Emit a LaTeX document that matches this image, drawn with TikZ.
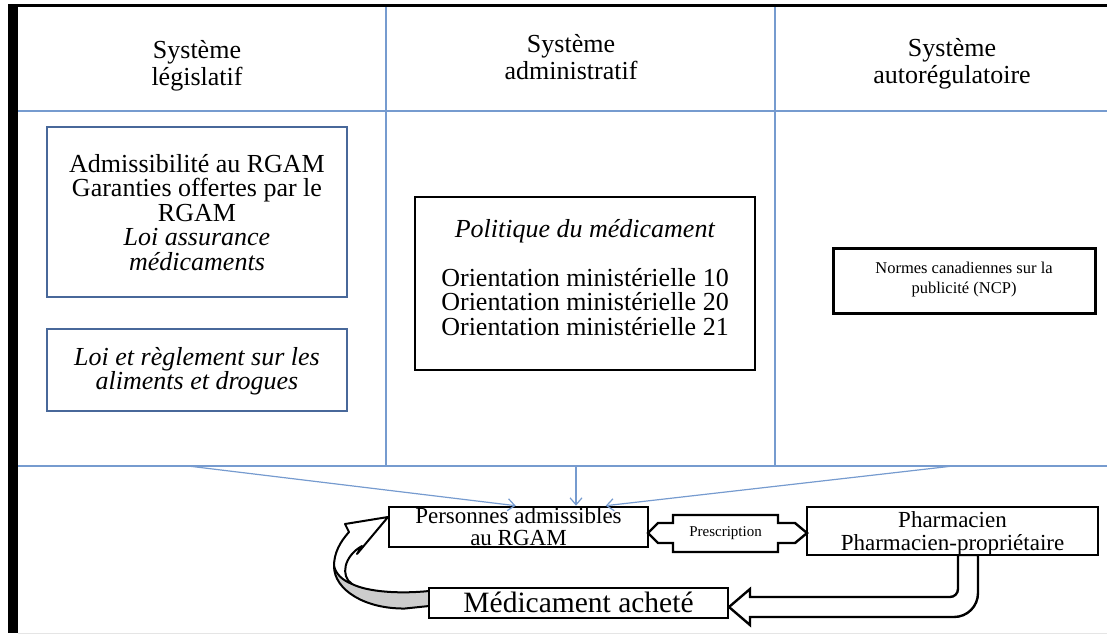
\documentclass[tikz,border=0pt]{standalone}
\usepackage{fontspec}
\setmainfont{Liberation Serif}
\usetikzlibrary{arrows.meta,calc}

\definecolor{gridblue}{RGB}{118,155,207}
\definecolor{boxblue}{RGB}{72,104,154}
\definecolor{ribbongray}{RGB}{204,204,204}

\tikzset{
  gridline/.style={draw=gridblue, line width=1.3pt},
  feed/.style={draw=gridblue, line width=1.2pt, -{Straight Barb[length=7pt,width=12pt]}},
  heading/.style={align=center, anchor=base, font=\fontsize{26}{27}\selectfont},
  bodytext/.style={align=center, anchor=base, inner sep=0pt, font=\fontsize{26}{24.5}\selectfont},
  lawbox/.style={draw=boxblue, line width=2.6pt, fill=white, inner sep=0pt},
  framebox/.style={draw=black, line width=2.6pt, fill=white, inner sep=0pt},
  thickline/.style={draw=black, line width=2.4pt, line join=miter},
  ribbon/.style={draw=black, line width=2pt, line join=round}
}

\begin{document}
\begin{tikzpicture}[x=1pt,y=-1pt]
\useasboundingbox (0,0) rectangle (1107,635);

% outer frame: black rule on top and on the left
\fill[black] (8,3.5) rectangle (1107,7);
\fill[black] (8,3.5) rectangle (18,633);
\draw[black!10, line width=1pt] (18,633.5) -- (1107,633.5);

% table grid
\draw[gridline] (18,111) -- (1107,111);
\draw[gridline] (18,466) -- (1107,466);
\draw[gridline] (386,7) -- (386,466);
\draw[gridline] (775,7) -- (775,466);

% column headings (anchored on the baseline of their last line)
\node[heading] (hleg) at (197,85) {Système\\législatif};
\node[heading] (hadm) at (571,79) {Système\\administratif};
\node[heading] (hauto) at (952,83) {Système\\autorégulatoire};

% legislative system
\node[lawbox, minimum width=300pt, minimum height=170pt] (ramq) at (197,212) {};
\node[bodytext] (ramqtxt) at (197,270)
  {Admissibilité au RGAM\\Garanties offertes par le\\RGAM\\\textit{Loi assurance}\\\textit{médicaments}};
\node[lawbox, minimum width=300pt, minimum height=82pt] (lad) at (197,370) {};
\node[bodytext] (ladtxt) at (197,389.5)
  {\textit{Loi et règlement sur les}\\\textit{aliments et drogues}};

% administrative system
\node[framebox, minimum width=340pt, minimum height=173pt] (pol) at (585,283.5) {};
\node[bodytext] (poltxt) at (585,335)
  {\textit{Politique du médicament}\\[24.5pt]Orientation ministérielle 10\\Orientation ministérielle 20\\Orientation ministérielle 21};

% self-regulatory system
\node[framebox, line width=3pt, minimum width=262pt, minimum height=65pt] (ncp) at (964,280.5) {};
\node[bodytext, font=\fontsize{16.5}{20.5}\selectfont] (ncptxt) at (964,293.5)
  {Normes canadiennes sur la\\publicité (NCP)};

% flows from the three systems
\coordinate (f1) at (188,466);
\coordinate (f2) at (576,466);
\coordinate (f3) at (953,466);

% U-shaped arrow from the pharmacist to the purchased drug
\draw[thickline, fill=white] (958,555) -- (958,589)
  .. controls (958,593.4) and (954.4,597) .. (950,597)
  -- (750,597) -- (750,589) -- (729,607) -- (750,625) -- (750,617) -- (954,617)
  .. controls (967.3,617) and (978,606.3) .. (978,593) -- (978,555) -- cycle;

% twisted ribbon arrow from the purchased drug back to the patients
\fill[white] (349,532) .. controls (340,542) and (334,553) .. (334,566)
  .. controls (334,590) and (365,609) .. (405,608.5) -- (429,606) -- (429,591)
  .. controls (400,594) and (368,592) .. (352,584)
  .. controls (340,576) and (344,556) .. (362,546)
  -- (357,554) -- (388,517) -- (345,524) -- cycle;
\fill[ribbongray] (334,566) .. controls (334,590) and (365,609) .. (405,608.5)
  -- (429,606) -- (429,591) .. controls (400,594) and (368,592) .. (352,584)
  .. controls (342,580) and (336,574) .. (334,566) -- cycle;
\draw[ribbon] (429,606) -- (405,608.5)
  .. controls (365,609) and (334,590) .. (334,566)
  .. controls (334,553) and (340,542) .. (349,532)
  -- (345,524) -- (388,517) -- (357,554) -- (362,546)
  .. controls (344,556) and (340,576) .. (352,584)
  .. controls (368,592) and (400,594) .. (429,591);
\draw[ribbon] (352,584) .. controls (342,580) and (336,574) .. (334,566);

% bottom row
\node[framebox, minimum width=259pt, minimum height=40pt] (pers) at (518.5,527) {};
\node[bodytext, font=\fontsize{23}{22}\selectfont] (perstxt) at (518.5,545)
  {Personnes admissibles\\au RGAM};
\node[framebox, minimum width=291pt, minimum height=48pt] (pharm) at (952.5,531) {};
\node[bodytext, font=\fontsize{23}{23}\selectfont] (pharmtxt) at (952.5,550)
  {Pharmacien\\Pharmacien-propriétaire};
\node[framebox, minimum width=299pt, minimum height=30pt] (achat) at (578.5,603) {};
\node[bodytext, font=\fontsize{29.5}{30}\selectfont] (achattxt) at (578.5,612)
  {Médicament acheté};

% prescription: two-headed block arrow between patients and pharmacist
\draw[thickline, fill=white] (648,533) -- (658,523) -- (673,523) -- (673,515)
  -- (778,515) -- (778,523) -- (795,523) -- (807,533) -- (795,543) -- (778,543)
  -- (778,552) -- (673,552) -- (673,543) -- (658,543) -- cycle;
\node[font=\fontsize{15}{15}\selectfont] (presc) at (725.5,533.5) {Prescription};

% the three systems all bear on the eligible persons
\draw[feed] (f1) -- ([xshift=128pt]pers.north west);
\draw[feed] (f2) -- (pers.north -| f2);
\draw[feed] (f3) -- ([xshift=218pt]pers.north west);
\end{tikzpicture}
\end{document}
